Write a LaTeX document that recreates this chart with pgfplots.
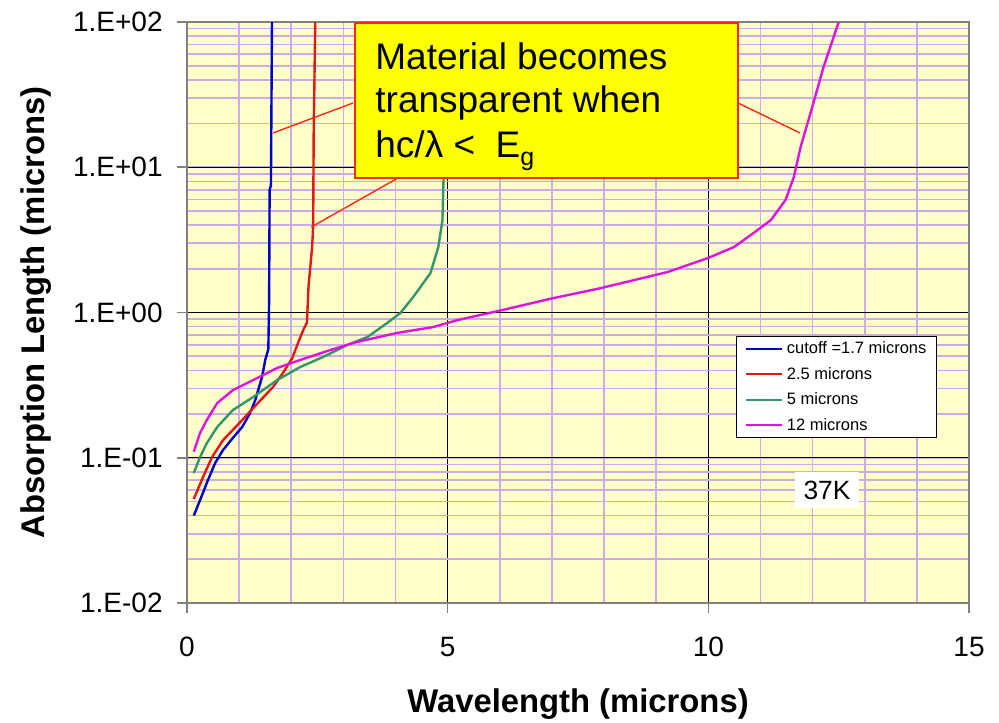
\documentclass[border=0pt]{standalone}
\usepackage{pgfplots}
\pgfplotsset{compat=1.18}
\usepackage{fontspec}
\setmainfont{Liberation Sans}

\definecolor{bgyellow}{RGB}{255,255,204}
\definecolor{gridlav}{RGB}{204,172,232}
\definecolor{axgray}{RGB}{128,128,128}
\definecolor{cblue}{RGB}{0,0,204}
\definecolor{cred}{RGB}{225,25,20}
\definecolor{cgreen}{RGB}{51,150,102}
\definecolor{cmag}{RGB}{220,20,220}
\definecolor{callred}{RGB}{255,40,20}
\definecolor{boxyellow}{RGB}{255,255,0}

% absorption length vs wavelength, one table per cutoff
\pgfplotstableread{
x y
0.13 0.040
0.25 0.051
0.40 0.070
0.54 0.092
0.69 0.113
0.88 0.137
1.06 0.163
1.20 0.20
1.31 0.25
1.44 0.36
1.50 0.47
1.56 0.56
1.575 1.2
1.585 7.0
1.61 7.5
1.63 100
}\cutA
\pgfplotstableread{
x y
0.13 0.052
0.31 0.074
0.48 0.101
0.69 0.132
1.06 0.182
1.36 0.238
1.65 0.307
1.84 0.383
2.02 0.486
2.13 0.617
2.23 0.758
2.30 0.85
2.32 1.22
2.33 1.5
2.40 2.82
2.42 3.9
2.43 17
2.46 100
}\cutB
\pgfplotstableread{
x y
0.13 0.0785
0.25 0.101
0.38 0.126
0.58 0.163
0.88 0.213
1.27 0.262
1.73 0.343
2.17 0.421
2.61 0.494
3.07 0.597
3.46 0.678
3.84 0.847
4.09 0.99
4.34 1.28
4.67 1.87
4.82 2.82
4.90 4.33
4.92 8.2
4.95 29
4.97 100
}\cutC
\pgfplotstableread{
x y
0.13 0.11
0.25 0.148
0.38 0.182
0.58 0.238
0.88 0.292
1.27 0.343
1.73 0.415
2.17 0.471
2.75 0.552
3.26 0.627
4.03 0.723
4.72 0.794
5.19 0.887
6.00 1.03
7.00 1.25
7.93 1.47
8.57 1.67
9.22 1.90
9.99 2.37
10.49 2.82
10.87 3.53
11.20 4.33
11.48 5.95
11.64 8.57
11.77 13.8
11.96 23.6
12.21 49
12.50 100
}\cutD

\begin{document}
\begin{tikzpicture}
\begin{axis}[
  at={(93.5pt,59.5pt)}, anchor=south west,
  scale only axis, width=391pt, height=290.5pt,
  ymode=log, xmin=0, xmax=15, ymin=0.01, ymax=100,
  xtick={0,5,10,15}, xticklabels={0,5,10,15},
  minor x tick num=4,
  ytick={0.01,0.1,1,10,100},
  yticklabels={1.E-02,1.E-01,1.E+00,1.E+01,1.E+02},
  xmajorgrids, xminorgrids, ymajorgrids, yminorgrids,
  major grid style={black, line width=0.6pt},
  minor grid style={gridlav, line width=0.8pt},
  axis background/.style={fill=bgyellow},
  axis line style={axgray, line width=0.8pt},
  tick style={axgray, line width=0.8pt},
  tick align=outside, major tick length=5pt, minor tick length=0pt,
  tick pos=left,
  tick label style={font=\fontsize{14}{16}\selectfont},
  xticklabel style={anchor=north, inner sep=0pt, yshift=-12pt},
  yticklabel style={anchor=east, inner sep=0pt, xshift=-7pt},
  xlabel={Wavelength (microns)},
  ylabel={Absorption Length (microns)},
  x label style={at={(axis description cs:0.5,-0.1876)}, anchor=base,
    font=\bfseries\fontsize{16.4}{18}\selectfont},
  y label style={at={(axis description cs:-0.1816,0.5)}, anchor=base,
    font=\bfseries\fontsize{16.4}{18}\selectfont},
  legend style={at={(0.702,0.460)}, anchor=north west, draw=black,
    line width=0.5pt, fill=white, font=\fontsize{8.25}{10}\selectfont,
    inner xsep=4pt, inner ysep=1.75pt, row sep=3.75pt,
    nodes={inner sep=1pt, text height=6pt, text depth=1pt},
    /tikz/column 1/.style={column sep=1pt}},
  legend cell align=left,
  legend image code/.code={\draw[#1] (0pt,0pt) -- (18pt,0pt);},
  every axis plot/.append style={line width=1.2pt},
]
\addplot[cblue] table {\cutA};
\addplot[cred] table {\cutB};
\addplot[cgreen] table {\cutC};
\addplot[cmag] table {\cutD};
\legend{cutoff =1.7 microns, 2.5 microns, 5 microns, 12 microns}

% callout lines and box
\draw[callred, line width=0.7pt] (rel axis cs:0.2123,0.8606) -- (rel axis cs:0.110,0.809);
\draw[callred, line width=0.7pt] (rel axis cs:0.2698,0.7315) -- (rel axis cs:0.159,0.6472);
\draw[callred, line width=0.7pt] (rel axis cs:0.7046,0.8606) -- (rel axis cs:0.7839,0.809);
\draw[callred, line width=0.8pt, fill=boxyellow]
  (rel axis cs:0.2148,0.7315) rectangle (rel axis cs:0.7046,0.998);
\node[anchor=base west, inner sep=0pt, font=\fontsize{18.5}{21}\selectfont]
  at (rel axis cs:0.2404,0.9174) {Material becomes};
\node[anchor=base west, inner sep=0pt, font=\fontsize{18.5}{21}\selectfont]
  at (rel axis cs:0.2404,0.8434) {transparent when};
\node[anchor=base west, inner sep=0pt, font=\fontsize{18.5}{21}\selectfont]
  at (rel axis cs:0.2404,0.7676)
  {hc/λ <\ \ E\raisebox{-4pt}{\fontsize{12.5}{14}\selectfont g}};
\node[fill=white, inner xsep=4.5pt, inner ysep=4.5pt, font=\fontsize{13.2}{15}\selectfont]
  at (rel axis cs:0.8184,0.1945) {37K};
\end{axis}
\pgfresetboundingbox
\useasboundingbox (0,0) rectangle (499.5pt,361pt);
\end{tikzpicture}
\end{document}
